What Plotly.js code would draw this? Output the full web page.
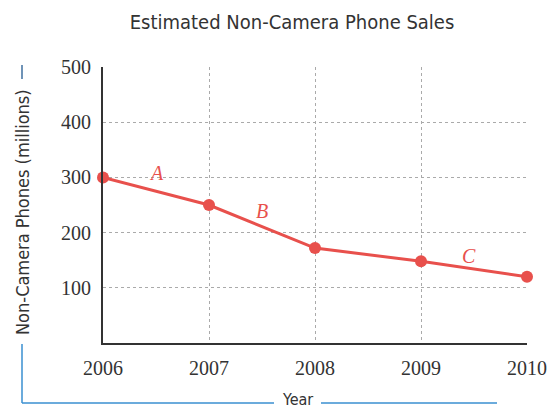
<!DOCTYPE html>
<html><head><meta charset="utf-8">
<script src="https://cdn.plot.ly/plotly-3.0.1.min.js"></script>
<style>html,body{margin:0;padding:0;background:#fff}#chart{width:555px;height:410px}</style>
</head><body><div id="chart"></div>
<script>
var years = [2006, 2007, 2008, 2009, 2010];
var sales = [300, 250, 172, 148, 120];
var yTicks = [100, 200, 300, 400, 500];
var segLabels = ['A', 'B', 'C'];
var segLabelX = [2006.5, 2007.5, 2009.45];
var segLabelY = [308, 240, 158];

var red = '#e8504c';
var blue = '#3a8fd0';
var cond = 'DejaVu Sans Condensed, DejaVu Sans, sans-serif';
var serif = 'Liberation Serif, serif';
var W = 555, H = 410, L = 103, R = 28, T = 67, B = 67;
var pw = W - L - R, ph = H - T - B;
function px(x){ return (x - L) / pw; }
function py(y){ return (H - B - y) / ph; }

var trace = {
  x: years, y: sales, type: 'scatter', mode: 'lines+markers',
  line: {color: red, width: 3},
  marker: {color: red, size: 12},
  cliponaxis: false, hoverinfo: 'skip'
};

var annotations = segLabels.map(function(t, i){
  return {x: segLabelX[i], y: segLabelY[i], xref: 'x', yref: 'y', text: '<i>' + t + '</i>', showarrow: false,
    font: {family: serif, size: 20, color: red},
    xanchor: 'center', yanchor: 'middle'};
});
annotations.push({x: px(22), y: py(212), xref: 'paper', yref: 'paper', text: 'Non-Camera Phones (millions)',
  showarrow: false, textangle: -90, font: {family: cond, size: 18, color: '#333', stretch: 'condensed'},
  xanchor: 'center', yanchor: 'middle'});
annotations.push({x: px(297), y: py(399), xref: 'paper', yref: 'paper', text: 'Year',
  showarrow: false, font: {family: cond, size: 16, color: '#333', stretch: 'condensed'},
  xanchor: 'center', yanchor: 'middle'});

var shapes = [
  {type: 'line', xref: 'paper', yref: 'paper', x0: px(22), y0: py(344), x1: px(22), y1: py(403), line: {color: blue, width: 1.5}},
  {type: 'line', xref: 'paper', yref: 'paper', x0: px(22), y0: py(403), x1: px(274), y1: py(403), line: {color: blue, width: 1.5}},
  {type: 'line', xref: 'paper', yref: 'paper', x0: px(321), y0: py(403), x1: px(497), y1: py(403), line: {color: blue, width: 1.5}},
  {type: 'line', xref: 'paper', yref: 'paper', x0: px(22), y0: py(65), x1: px(22), y1: py(79), line: {color: '#3f6f9f', width: 1.5}}
];

var layout = {
  width: W, height: H,
  margin: {l: L, r: R, t: T, b: B},
  paper_bgcolor: '#fff', plot_bgcolor: '#fff',
  title: {text: 'Estimated Non-Camera Phone Sales', x: px(292), xref: 'paper', xanchor: 'center', y: 1 - 22 / H, yanchor: 'middle',
    font: {family: cond, size: 20, color: '#333', stretch: 'condensed'}},
  xaxis: {range: [2006, 2010], tickvals: years, ticktext: years.map(String), showgrid: true,
    gridcolor: '#aaa', griddash: 'dot', gridwidth: 1, showline: true, linecolor: '#333', linewidth: 2,
    zeroline: false, ticks: '', ticklabelstandoff: 6, tickfont: {family: serif, size: 20, color: '#333'}, fixedrange: true},
  yaxis: {range: [0, 500], tickvals: yTicks, showgrid: true, gridcolor: '#aaa', griddash: 'dot', gridwidth: 1,
    showline: true, linecolor: '#333', linewidth: 2, zeroline: false, ticks: '', ticklabelstandoff: 6,
    tickfont: {family: serif, size: 20, color: '#333'}, fixedrange: true},
  showlegend: false,
  annotations: annotations,
  shapes: shapes
};
Plotly.newPlot('chart', [trace], layout, {displayModeBar: false, staticPlot: true});
</script></body></html>
